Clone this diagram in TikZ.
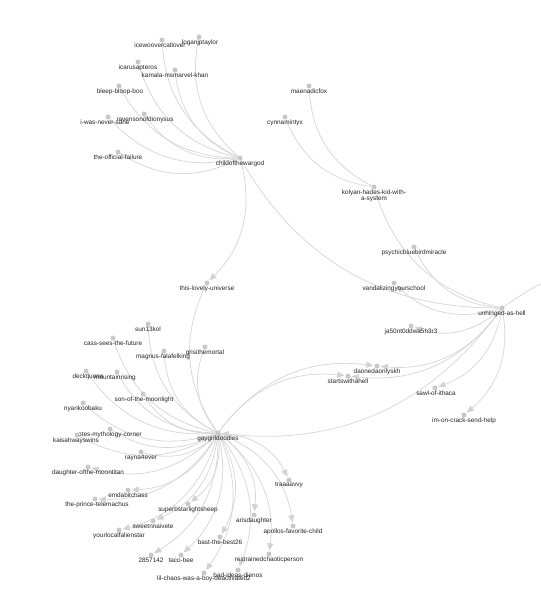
\documentclass[tikz,border=0pt]{standalone}
\usepackage{fontspec}
\setmainfont{Liberation Sans}
\usetikzlibrary{arrows.meta,calc}
\pgfdeclarelayer{bg}
\pgfsetlayers{bg,main}
\definecolor{edgec}{HTML}{D8D8D8}
\definecolor{arrc}{HTML}{D2D2D2}
\definecolor{dotc}{HTML}{C8C8C8}
\definecolor{txtc}{HTML}{262626}
\tikzset{
 dot/.style={circle,fill=dotc,inner sep=0pt,minimum size=5pt},
 lbl/.style={font=\fontsize{6.4}{6.2}\selectfont,text=txtc,inner sep=0pt},
 link/.style={draw=edgec,line width=0.75pt,bend left=30},
 alink/.style={link,-{Triangle[length=7pt,width=6pt,fill=arrc,color=arrc]},shorten >=1pt},
}
\newcommand\pnode[5]{\node[dot] (#1) at (#2,#3) {};\node[lbl] (#1-l) at ($(#1)+(#4,5.5)$) {#5};}
\begin{document}
\begin{tikzpicture}[x=1pt,y=-1pt]
\useasboundingbox (0,0) rectangle (540,601);
% top cluster
\pnode{c}{240}{158}{0}{childofthewargod}
\pnode{lcewo}{162}{40}{-2}{icewoovercatlover}
\pnode{logan}{199}{37}{1}{loganjptaylor}
\pnode{icarus}{138}{62}{0}{icarusapteros}
\pnode{kamala}{175}{70}{0}{kamala-msmarvel-khan}
\pnode{bleep}{119}{86}{1}{bleep-bloop-boo}
\pnode{raven}{144}{114}{1}{ravensonofdionysus}
\pnode{iwas}{108}{117}{-3}{i-was-never-sane}
\pnode{official}{118}{152}{0}{the-official-failure}
\pnode{maenad}{309}{86}{0}{maenadicfox}
\pnode{cynn}{285}{117}{0}{cynnamintyx}
\node[dot] (kolyan) at (374,187) {};
\node[lbl,align=center] (kolyan-l) at ($(kolyan)+(0,8.5)$) {kolyan-hades-kid-with-\\a-system};
% middle
\pnode{tlu}{207}{283}{0}{this-lovely-universe}
\pnode{psychic}{414}{247}{0}{psychicbluebirdmiracle}
\pnode{vandal}{394}{283}{0}{vandalizingyourschool}
\pnode{unh}{502}{308}{0}{unhinged-as-hell}
\pnode{ja50}{411}{326}{0}{ja50nt0ddwa5h3r3}
\coordinate (offr) at (600,262);
% lower cluster
\pnode{g}{218}{433}{0}{gaygirldoodles}
\pnode{sun}{148}{324}{0}{sun13kol}
\pnode{cass}{113}{338}{0}{cass-sees-the-future}
\pnode{magnus}{164}{351}{-1}{magnus-falafelking}
\pnode{grisi}{205}{347}{0}{grisithemortal}
\pnode{deck}{86}{371}{2}{decktjuone}
\pnode{mount}{117}{372}{-2}{mountainrising}
\pnode{son}{143}{394}{1}{son-of-the-moonlight}
\pnode{nyan}{83}{403}{0}{nyankoobaku}
\pnode{otes}{110}{429}{0}{otes-mythology-corner}
\pnode{kaisah}{77}{435}{-1}{kaisahwayswins}
\pnode{rayna}{141}{452}{0}{rayna4ever}
\pnode{daughter}{88}{467}{0}{daughter-ofthe-moontitan}
\pnode{emda}{128}{490}{0}{emdabitchass}
\pnode{prince}{95}{499}{2}{the-prince-telemachus}
\pnode{superb}{188}{504}{0}{superbstarlightsheep}
\pnode{sweet}{153}{521}{0}{sweetnnaivete}
\pnode{yourlocal}{119}{530}{0}{yourlocalfalienstar}
\pnode{traa}{289}{480}{0}{traaaavvy}
\pnode{aris}{254}{515}{0}{arisdaughter}
\pnode{apollo}{293}{526}{0}{apollos-favorite-child}
\pnode{bast}{220}{537}{0}{bast-the-best26}
\pnode{n285}{151}{555}{0}{2857142}
\pnode{taco}{181}{555}{0}{taco-bee}
\pnode{restr}{269}{554}{0}{restrainedchaoticperson}
\pnode{lilchaos}{204}{573}{0}{lil-chaos-was-a-boy-deactivated2}
\pnode{badideas}{238}{570}{0}{bad-ideas-dienos}
\pnode{daoned}{377}{366}{0}{daonedaonlyskh}
\pnode{starts}{348}{376}{0}{startswithahell}
\pnode{sawl}{435}{388}{1}{sawl-of-ithaca}
\pnode{imcrack}{464}{415}{0}{im-on-crack-send-help}
\begin{pgfonlayer}{bg}
\fill[white] (0,0) rectangle (540,601);
\foreach \t in {lcewo,logan,icarus,kamala,bleep,raven,iwas,official}
  \draw[link] (c) to (\t);
\draw[alink] (c) to (tlu);
\draw[link] (kolyan) to (maenad);
\draw[link] (kolyan) to (cynn);
\draw[link] (unh) to (c);
\draw[link] (unh) to (kolyan);
\draw[link] (unh) to (psychic);
\draw[alink] (unh) to (vandal);
\draw[alink] (unh) to (ja50);
\draw[alink] (unh) to (daoned);
\draw[alink] (unh) to (starts);
\draw[alink] (unh) to (sawl);
\draw[alink] (unh) to (imcrack);
\draw[alink] (unh) to (g);
\draw[link,bend left=10] (unh) to (offr);
\foreach \t in {sun,cass,magnus,grisi,deck,mount,son,nyan,otes,kaisah,rayna,tlu}
  \draw[link] (g) to (\t);
\foreach \t in {daughter,emda,prince,superb,sweet,yourlocal,traa,aris,apollo,bast,n285,taco,restr,lilchaos,badideas,daoned,starts}
  \draw[alink] (g) to (\t);
\end{pgfonlayer}
\end{tikzpicture}
\end{document}
